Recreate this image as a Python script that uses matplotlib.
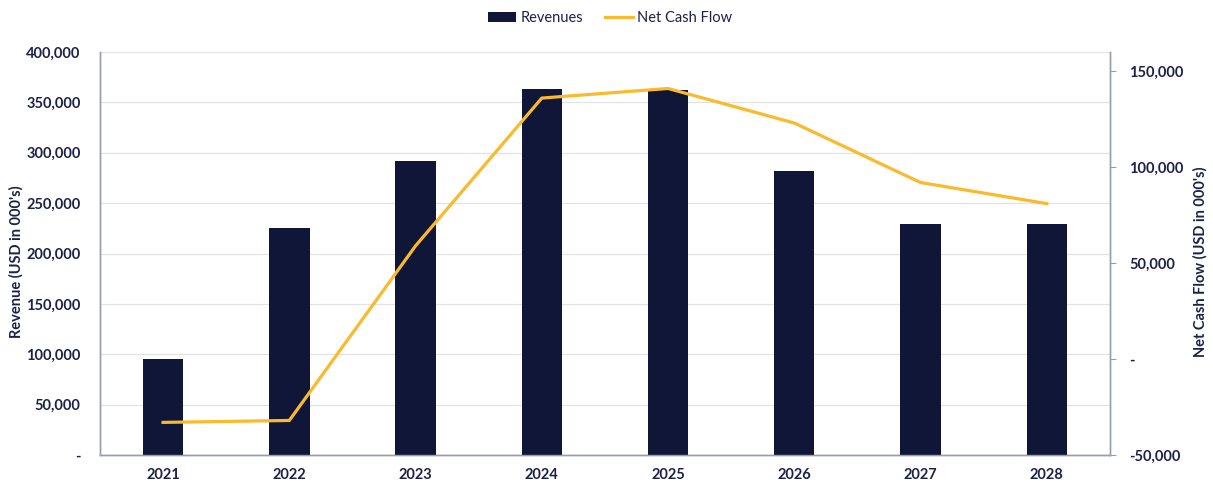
import matplotlib
matplotlib.use("Agg")
import matplotlib.pyplot as plt
from matplotlib.ticker import FuncFormatter, FixedLocator
import numpy as np

years = ["2021", "2022", "2023", "2024", "2025", "2026", "2027", "2028"]
revenues = [95000, 225000, 292000, 363000, 362000, 282000, 229000, 229000]
net_cash_flow = [-33000, -32000, 59000, 136000, 141000, 123000, 92000, 81000]

navy = "#0f1638"
gold = "#fbb92c"
text_c = "#1c2147"

plt.rcParams['font.family'] = ['Lato', 'DejaVu Sans']

fig = plt.figure(figsize=(12.13, 4.87), dpi=100)
ax = fig.add_axes([0.0824, 0.0657, 0.8326, 0.8275])
ax2 = ax.twinx()

x = np.arange(len(years))
bars = ax.bar(x, revenues, width=0.32, color=navy, label="Revenues", zorder=3)
line, = ax2.plot(x, net_cash_flow, color=gold, lw=2.3, label="Net Cash Flow", zorder=4)

ax.set_xlim(-0.5, len(years) - 0.5)
ax.set_ylim(0, 400000)
ax.yaxis.set_major_locator(FixedLocator(np.arange(0, 400001, 50000)))
ax2.set_ylim(-50000, 160000)
ax2.yaxis.set_major_locator(FixedLocator(np.arange(-50000, 150001, 50000)))

fmt = FuncFormatter(lambda v, p: "-" if v == 0 else f"{v:,.0f}")
ax.yaxis.set_major_formatter(fmt)
ax2.yaxis.set_major_formatter(fmt)

ax.set_xticks(x)
ax.set_xticklabels(years)

ax.grid(axis="y", color="#e3e3e3", lw=0.9, zorder=0)
ax.set_axisbelow(True)

for a in (ax, ax2):
    a.spines["top"].set_visible(False)
    for s in ("left", "right", "bottom"):
        a.spines[s].set_color("#9a9db0")
        a.spines[s].set_linewidth(1.0)

ax.tick_params(axis="y", length=0, pad=14, labelsize=10.5, labelcolor=text_c)
ax.tick_params(axis="x", length=0, pad=9, labelsize=10.5, labelcolor=text_c)
ax2.tick_params(axis="y", length=4, color="#9a9db0", direction="out", pad=10, labelsize=10.5, labelcolor=text_c)
for lbl in ax.get_yticklabels() + ax.get_xticklabels() + ax2.get_yticklabels():
    lbl.set_fontweight("bold")

ax.set_ylabel("Revenue (USD in 000's)", fontsize=10.5, fontweight="bold", color=text_c)
ax.yaxis.set_label_coords(-0.076, 0.48)
ax2.set_ylabel("Net Cash Flow (USD in 000's)", fontsize=10.5, fontweight="bold", color=text_c)
ax2.yaxis.set_label_coords(1.082, 0.48)

fig.legend([bars, line], ["Revenues", "Net Cash Flow"], loc="center", bbox_to_anchor=(0.503, 0.963),
           ncol=2, frameon=False, fontsize=10.5, labelcolor=text_c, handlelength=1.9,
           handleheight=0.7, columnspacing=1.5, handletextpad=0.3)

fig.savefig("out.png", dpi=100)
